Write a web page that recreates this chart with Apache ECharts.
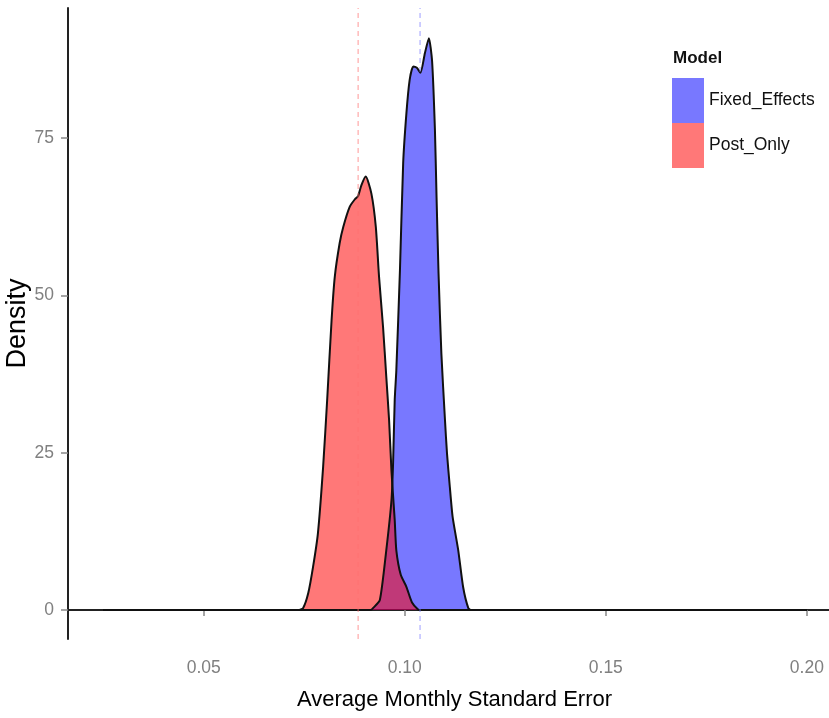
<!DOCTYPE html>
<html style="height: 100%">
<head>
	<meta charset="utf-8">
	<script src="https://cdn.jsdelivr.net/npm/echarts@6/dist/echarts.min.js"></script>
</head>
<body style="height: 100%; margin: 0; background: #fff">
	<div id="container" style="width: 829px; height: 718px;"></div>
	<script type="text/javascript">
		// density estimates
		let fixedX = [0.025, 0.0915, 0.0921, 0.0938, 0.0954, 0.0967, 0.0971, 0.0975, 0.0979, 0.0988, 0.0996,
			0.1004, 0.1012, 0.1021, 0.1030, 0.1039, 0.1050, 0.1060, 0.1068, 0.1075, 0.1079, 0.1084,
			0.1091, 0.1100, 0.1105, 0.1112, 0.1119, 0.1133, 0.1145, 0.1158, 0.1165, 0.2];
		let fixedY = [0, 0, 0.3, 1.6, 9.5, 17.5, 23.5, 33.4, 38.1, 54, 71,
			78.9, 84.2, 86.4, 86.2, 85.4, 88.5, 90.9, 87.2, 76.3, 65.7, 53.5,
			40.8, 30.2, 24.9, 19.6, 14.8, 9.5, 3.7, 0.3, 0, 0];

		let postX = [0.025, 0.0735, 0.0747, 0.0760, 0.0772, 0.0784, 0.0797, 0.0807, 0.0818, 0.0826, 0.0838,
			0.0847, 0.0863, 0.0876, 0.0884, 0.0892, 0.0903, 0.0917, 0.0928, 0.0936, 0.0946, 0.0954,
			0.0961, 0.0967, 0.0975, 0.0979, 0.0990, 0.1004, 0.1018, 0.1033, 0.1040, 0.2];
		let postY = [0, 0, 0.3, 2.7, 6.9, 12.2, 22.8, 33.4, 46.1, 53.0, 58.3,
			60.9, 64.1, 65.3, 65.8, 67.5, 68.9, 66.2, 60.9, 53.0, 45.0, 37.1,
			30.2, 22.0, 14.3, 9.5, 5.6, 3.7, 1.2, 0.1, 0, 0];

		let modelNames = ['Fixed_Effects', 'Post_Only'];
		let fillColors = ['rgba(0, 0, 255, 0.53)', 'rgba(255, 0, 0, 0.53)'];
		let meanLines = [0.1038, 0.0884];
		let meanColors = ['rgba(120, 120, 255, 0.6)', 'rgba(255, 110, 110, 0.6)'];
		let xTicks = [0.05, 0.10, 0.15, 0.20];
		let yTicks = [0, 25, 50, 75];
		let yMin = -4.6, yMax = 95.7;

		let font = "'Liberation Sans', Arial, sans-serif";

		function pairs(xs, ys) {
			return xs.map((x, i) => [x, ys[i]]);
		}

		let dom = document.getElementById("container");
		let myChart = echarts.init(dom);
		let seriesData = [pairs(fixedX, fixedY), pairs(postX, postY)];

		// dashed mean lines first, so the outlines sit on top of them
		let meanSeries = modelNames.map((n, i) => ({
			name: n + '_mean',
			type: 'line',
			data: [[meanLines[i], yMin], [meanLines[i], yMax]],
			showSymbol: false,
			silent: true,
			z: 3,
			lineStyle: { color: meanColors[i], type: [5, 4], width: 1.2 }
		}));

		let densitySeries = modelNames.map((n, i) => ({
			name: n,
			type: 'line',
			data: seriesData[i],
			smooth: 0.2,
			showSymbol: false,
			silent: true,
			z: 2,
			itemStyle: { color: fillColors[i] },
			lineStyle: { color: '#111', width: 2 },
			areaStyle: { color: fillColors[i], opacity: 1 }
		}));

		let option = {
			animation: false,
			title: {
				text: 'Model',
				left: 673,
				top: 50,
				padding: 0,
				textStyle: { fontFamily: font, fontSize: 17, fontWeight: 'bold', color: '#111' }
			},
			legend: {
				orient: 'vertical',
				left: 672,
				top: 78,
				padding: 0,
				itemWidth: 32,
				itemHeight: 45,
				itemGap: 0,
				icon: 'rect',
				selectedMode: false,
				textStyle: { fontFamily: font, fontSize: 17.5, color: '#111' },
				data: modelNames.map((n, i) => ({ name: n, itemStyle: { color: fillColors[i], borderWidth: 0 } }))
			},
			grid: { left: 68, top: 8, right: 0, bottom: 79, outerBoundsMode: 'none' },
			xAxis: {
				type: 'value',
				min: 0.01625,
				max: 0.2055,
				name: 'Average Monthly Standard Error',
				nameLocation: 'middle',
				nameMoveOverlap: false,
				nameGap: 50,
				nameTextStyle: { fontFamily: font, fontSize: 22, color: '#000', padding: [0, 0, 0, 12] },
				splitLine: { show: false },
				axisLine: { lineStyle: { color: '#222', width: 2 } },
				axisTick: { customValues: xTicks, length: 6, lineStyle: { color: '#888', width: 1.5 } },
				axisLabel: {
					customValues: xTicks,
					margin: 20,
					fontFamily: font,
					fontSize: 17.5,
					color: '#808080',
					formatter: v => v.toFixed(2)
				}
			},
			yAxis: {
				type: 'value',
				min: yMin,
				max: yMax,
				name: 'Density',
				nameLocation: 'middle',
				nameMoveOverlap: false,
				nameGap: 37,
				nameTextStyle: { fontFamily: font, fontSize: 27, color: '#000' },
				splitLine: { show: false },
				axisLine: { show: true, lineStyle: { color: '#222', width: 2 } },
				axisTick: { show: true, customValues: yTicks, length: 7, lineStyle: { color: '#888', width: 1.5 } },
				axisLabel: {
					customValues: yTicks,
					margin: 14,
					fontFamily: font,
					fontSize: 17.5,
					color: '#808080'
				}
			},
			series: meanSeries.concat(densitySeries)
		};

		myChart.setOption(option, true);
	</script>
</body>
</html>
